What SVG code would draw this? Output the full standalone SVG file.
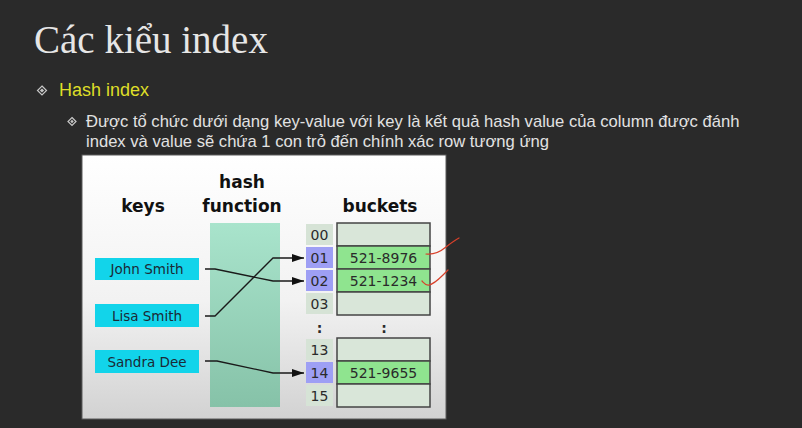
<svg xmlns="http://www.w3.org/2000/svg" width="802" height="428" viewBox="0 0 802 428">
  <defs>
    <linearGradient id="panelFill" x1="0" y1="0" x2="0" y2="1">
      <stop offset="0" stop-color="#ffffff"/>
      <stop offset="0.55" stop-color="#f2f2f2"/>
      <stop offset="1" stop-color="#d2d2d2"/>
    </linearGradient>
    <linearGradient id="hashFill" x1="0" y1="0" x2="0" y2="1">
      <stop offset="0" stop-color="#a9e4cc"/>
      <stop offset="1" stop-color="#86c2a8"/>
    </linearGradient>
    <marker id="arrow" viewBox="0 0 12 8" refX="12" refY="4" markerWidth="12" markerHeight="8" markerUnits="userSpaceOnUse" orient="auto">
      <path d="M0,0 L12,4 L0,8 Z" fill="#111"/>
    </marker>
  </defs>
  <style>
    .title { font-family: "Liberation Serif", "Times New Roman", serif; font-size: 39px; fill: #e6e6e6; }
    .lvl1 { font-family: "Liberation Sans", Arial, sans-serif; font-size: 18px; fill: #dede28; }
    .lvl2 { font-family: "Liberation Sans", Arial, sans-serif; font-size: 16.6px; fill: #e2e2e2; }
    .bullet { fill: none; stroke: #c8c8c8; stroke-width: 1.2; }
    .bulletDot { fill: #c8c8c8; }
    .head { font-family: "DejaVu Sans", sans-serif; font-weight: bold; font-size: 17px; fill: #111; text-anchor: middle; }
    .key rect { fill: #12d4ea; }
    .key text { font-family: "DejaVu Sans", sans-serif; font-size: 13.5px; fill: #1b2a36; text-anchor: middle; }
    .idx rect { fill: #d6e3d6; }
    .idx.hit rect { fill: #9e9ff4; }
    .idx text, .bucket text, .dots { font-family: "DejaVu Sans", sans-serif; font-size: 14px; fill: #2a2a2a; text-anchor: middle; }
    .dots { font-weight: bold; }
    .bucket rect { fill: #d9e6d9; stroke: #444; stroke-width: 1.5; }
    .bucket.full rect { fill: #8fe48f; }
    .conn path { fill: none; stroke: #1a1a1a; stroke-width: 1.3; }
    .ink path { fill: none; stroke: #d8402a; stroke-width: 1.2; stroke-linecap: round; }
  </style>

  <!-- slide background -->
  <rect x="0" y="0" width="802" height="428" fill="#2a2a2a"/>

  <!-- slide title and bullets -->
  <text class="title" x="34" y="53">Các kiểu index</text>

  <g id="bullet-hash">
    <path class="bullet" d="M42,86 L46.5,90.5 L42,95 L37.5,90.5 Z"/>
    <rect class="bulletDot" x="40.5" y="89" width="3" height="3" transform="rotate(45 42 90.5)"/>
    <text class="lvl1" x="59" y="96">Hash index</text>
  </g>

  <g id="bullet-desc">
    <path class="bullet" d="M72,117.5 L76,121.5 L72,125.5 L68,121.5 Z"/>
    <rect class="bulletDot" x="70.8" y="120.3" width="2.4" height="2.4" transform="rotate(45 72 121.5)"/>
    <text class="lvl2" x="86" y="127">Được tổ chức dưới dạng key-value với key là kết quả hash value của column được đánh</text>
    <text class="lvl2" x="86" y="147">index và value sẽ chứa 1 con trỏ đến chính xác row tương ứng</text>
  </g>

  <!-- hash table figure -->
  <g id="figure">
    <rect x="82" y="155" width="364" height="264" fill="url(#panelFill)" stroke="#5a5a5a" stroke-width="1"/>

    <text class="head" x="143" y="212">keys</text>
    <text class="head" x="242" y="188">hash</text>
    <text class="head" x="242" y="212">function</text>
    <text class="head" x="380" y="212">buckets</text>

    <rect id="hash-function" x="210" y="223" width="70" height="184" fill="url(#hashFill)"/>

    <g id="key-john" class="key">
      <rect x="95" y="258" width="104" height="22"/>
      <text x="147" y="274">John Smith</text>
    </g>
    <g id="key-lisa" class="key">
      <rect x="95" y="304" width="104" height="23"/>
      <text x="147" y="320.5">Lisa Smith</text>
    </g>
    <g id="key-sandra" class="key">
      <rect x="95" y="350" width="104" height="23"/>
      <text x="147" y="366.5">Sandra Dee</text>
    </g>

    <!-- bucket indices -->
    <g id="idx-00" class="idx"><rect x="306" y="224" width="27" height="21"/><text x="319.5" y="240">00</text></g>
    <g id="idx-01" class="idx hit"><rect x="306" y="247" width="27" height="21"/><text x="319.5" y="263">01</text></g>
    <g id="idx-02" class="idx hit"><rect x="306" y="270" width="27" height="21"/><text x="319.5" y="286">02</text></g>
    <g id="idx-03" class="idx"><rect x="306" y="293" width="27" height="21"/><text x="319.5" y="309">03</text></g>
    <g id="idx-13" class="idx"><rect x="306" y="339" width="27" height="21"/><text x="319.5" y="355">13</text></g>
    <g id="idx-14" class="idx hit"><rect x="306" y="362" width="27" height="21"/><text x="319.5" y="378">14</text></g>
    <g id="idx-15" class="idx"><rect x="306" y="385" width="27" height="21"/><text x="319.5" y="401">15</text></g>

    <text class="dots" x="319.5" y="333">:</text>
    <text class="dots" x="384" y="333">:</text>

    <!-- bucket slots -->
    <g id="bucket-00" class="bucket"><rect x="337" y="223" width="93" height="23"/></g>
    <g id="bucket-01" class="bucket full"><rect x="337" y="246" width="93" height="23"/><text x="383.5" y="263">521-8976</text></g>
    <g id="bucket-02" class="bucket full"><rect x="337" y="269" width="93" height="23"/><text x="383.5" y="286">521-1234</text></g>
    <g id="bucket-03" class="bucket"><rect x="337" y="292" width="93" height="23"/></g>
    <g id="bucket-13" class="bucket"><rect x="337" y="338" width="93" height="23"/></g>
    <g id="bucket-14" class="bucket full"><rect x="337" y="361" width="93" height="23"/><text x="383.5" y="378">521-9655</text></g>
    <g id="bucket-15" class="bucket"><rect x="337" y="384" width="93" height="23"/></g>

    <!-- key to bucket connectors -->
    <g id="connectors" class="conn">
      <path d="M205,269 L215,269 L273,281 L304,281" marker-end="url(#arrow)"/>
      <path d="M205,316 L215,316 L273,258 L304,258" marker-end="url(#arrow)"/>
      <path d="M205,361 L217,361 L273,373 L304,373" marker-end="url(#arrow)"/>
    </g>
  </g>

  <!-- red pen marks -->
  <g id="pen-marks" class="ink">
    <path d="M426,254 C434,255 440,252 446,247 C451,243 455,240 459,238"/>
    <path d="M422,281 C424,283 426,286 429,285 C434,284 439,279 443,275 C445,273 447,271 448,270"/>
  </g>
</svg>
